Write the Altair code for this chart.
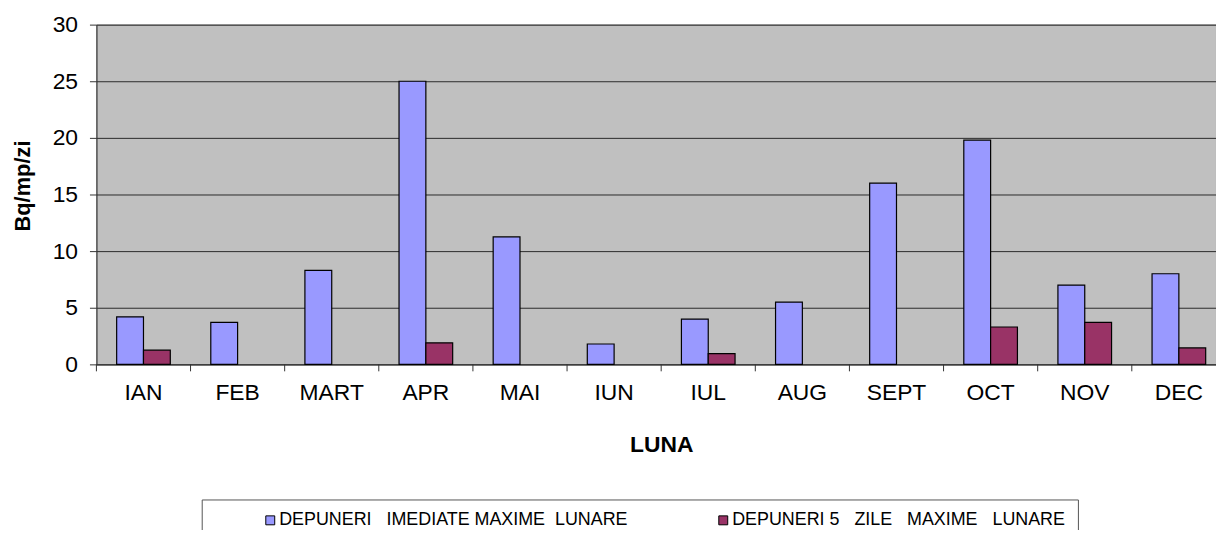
import altair as alt
import pandas as pd

months = ["IAN", "FEB", "MART", "APR", "MAI", "IUN", "IUL", "AUG", "SEPT", "OCT", "NOV", "DEC"]
imediate = [4.2, 3.7, 8.3, 25.0, 11.25, 1.8, 4.0, 5.5, 16.0, 19.8, 7.0, 8.0]
cinci_zile = [1.25, None, None, 1.9, None, None, 0.95, None, None, 3.3, 3.7, 1.45]

NB = "\u00a0"
series_names = [
    "DEPUNERI" + NB * 3 + "IMEDIATE MAXIME" + NB * 2 + "LUNARE",
    "DEPUNERI" + NB + "5" + NB * 3 + "ZILE" + NB * 3 + "MAXIME" + NB * 3 + "LUNARE",
]
series_colors = ["#9999FF", "#993366"]

rows = []
for m, a, b in zip(months, imediate, cinci_zile):
    rows.append({"luna": m, "serie": series_names[0], "val": a})
    if b is not None:
        rows.append({"luna": m, "serie": series_names[1], "val": b})
df = pd.DataFrame(rows)
df_months = pd.DataFrame({"luna": months})

FONT = "Liberation Sans"

x_scale = alt.Scale(domain=months, paddingInner=0, paddingOuter=0, range=[0, 1137])
x_axis = alt.Axis(
    title="LUNA",
    labelAngle=0,
    ticks=True,
    tickSize=7,
    tickOpacity=0,
    domainColor="#333333",
    labelFont=FONT,
    labelFontSize=23,
    labelColor="black",
    labelPadding=10,
    titleFont=FONT,
    titleFontSize=23,
    titleFontWeight="bold",
    titleColor="black",
    titlePadding=30,
    grid=False,
)

bars = alt.Chart(df).mark_bar(stroke="black", strokeWidth=1.2).encode(
    x=alt.X("luna:N", sort=months, scale=x_scale, axis=x_axis),
    xOffset=alt.XOffset(
        "serie:N",
        scale=alt.Scale(domain=series_names, paddingInner=0, paddingOuter=0.755),
    ),
    y=alt.Y(
        "val:Q",
        scale=alt.Scale(domain=[0, 30], nice=False),
        axis=alt.Axis(
            title="Bq/mp/zi",
            values=[0, 5, 10, 15, 20, 25, 30],
            tickSize=7,
            tickColor="#333333",
            domainColor="#333333",
            gridColor="#2a2a2a",
            gridWidth=1,
            labelFont=FONT,
            labelFontSize=23,
            labelColor="black",
            labelPadding=12,
            titleFont=FONT,
            titleFontSize=22,
            titleFontWeight="bold",
            titleColor="black",
            titlePadding=18,
            titleY=162,
        ),
    ),
    color=alt.Color(
        "serie:N",
        scale=alt.Scale(domain=series_names, range=series_colors),
        legend=alt.Legend(
            title=None,
            orient="none",
            legendX=106,
            legendY=478,
            direction="horizontal",
            strokeColor="#555555",
            fillColor="white",
            padding=12,
            symbolType="square",
            symbolSize=81,
            symbolStrokeColor="black",
            symbolStrokeWidth=1,
            symbolOpacity=1,
            symbolOffset=48,
            labelOffset=0,
            columnPadding=39,
            labelFont=FONT,
            labelFontSize=18,
            labelColor="black",
            labelLimit=0,
        ),
    ),
)

ticks = alt.Chart(df_months).mark_rule(color="#333333", strokeWidth=1).encode(
    x=alt.X("luna:N", sort=months, scale=x_scale, bandPosition=0, axis=x_axis),
    y=alt.value(342),
    y2=alt.value(349),
)

chart = alt.layer(bars, ticks).properties(
    width=1127,
    height=342,
    autosize=alt.AutoSizeParams(type="none"),
    padding={"left": 89, "top": 15, "right": 0, "bottom": 165},
    background="white",
).configure_view(
    fill="#C0C0C0",
    stroke="#808080",
    strokeWidth=1,
).configure_axisX(grid=False)

chart.save("out.html", embed_options={"renderer": "svg", "actions": False})
